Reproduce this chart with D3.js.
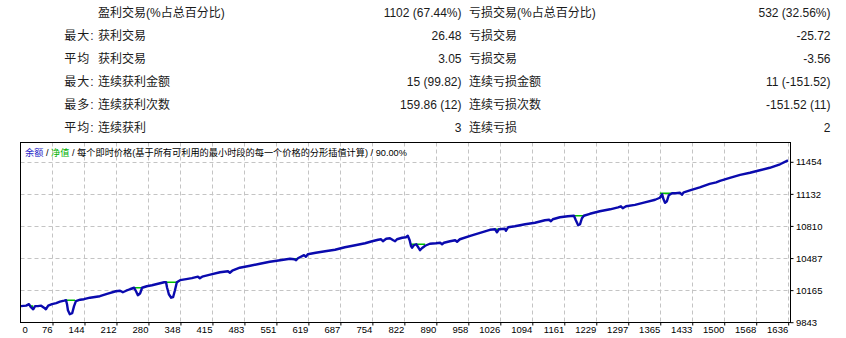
<!DOCTYPE html>
<html>
<head>
<meta charset="utf-8">
<script src="https://cdn.jsdelivr.net/npm/d3@7"></script>
<style>
  body { margin: 0; background: #fff; }
  svg { display: block; }
  .tbl text { font-family: "Liberation Sans", "Noto Sans CJK SC", sans-serif; font-size: 12px; fill: #1a1a1a; }
  .axis text { font-family: "Liberation Sans", sans-serif; font-size: 9.5px; fill: #000; }
  .axis line { stroke: #000; }
  .grid line { stroke: #c4c4c4; stroke-dasharray: 4,3; }
</style>
</head>
<body>
<div id="chart"></div>
<script>
// stats table
const rowPrefix = ["", "最大:", "平均\u00a0", "最大:", "最多:", "平均:"];
const winLabels = ["盈利交易(%占总百分比)", "获利交易", "获利交易", "连续获利金额", "连续获利次数", "连续获利"];
const winValues = ["1102 (67.44%)", "26.48", "3.05", "15 (99.82)", "159.86 (12)", "3"];
const lossLabels = ["亏损交易(%占总百分比)", "亏损交易", "亏损交易", "连续亏损金额", "连续亏损次数", "连续亏损"];
const lossValues = ["532 (32.56%)", "-25.72", "-3.56", "11 (-151.52)", "-151.52 (11)", "2"];

// chart header
const headerParts = ["余额", " / ", "净值", " / 每个即时价格(基于所有可利用的最小时段的每一个价格的分形插值计算) / 90.00%"];

// axes
const xLabels = ["0", "76", "144", "212", "280", "348", "415", "483", "551", "619", "687", "754", "822",
  "890", "958", "1026", "1094", "1161", "1229", "1297", "1365", "1433", "1500", "1568", "1636"];
const yTicks = [9843, 10165, 10487, 10810, 11132, 11454];
const totalTrades = 1634;

// balance curve: [trade no, balance]
const balanceCurve = [
  [0,10004],[11,10009],[17,10024],[21,9994],[26,9973],[30,10004],[36,10004],[43,10009],[49,9989],[53,9973],
  [58,10009],[66,10024],[75,10034],[83,10049],[92,10059],[96,10064],[98,10024],[100,9963],[104,9923],[109,9933],
  [113,10004],[117,10054],[126,10069],[134,10074],[147,10089],[168,10104],[185,10129],[202,10154],[211,10159],[217,10144],
  [224,10159],[232,10174],[241,10189],[245,10154],[249,10114],[254,10134],[258,10189],[268,10204],[279,10214],[292,10229],
  [305,10244],[309,10244],[311,10194],[315,10124],[320,10089],[324,10094],[328,10164],[332,10244],[339,10265],[352,10275],
  [364,10285],[377,10300],[381,10285],[386,10300],[403,10320],[424,10345],[441,10355],[445,10340],[450,10360],[466,10390],
  [488,10410],[509,10430],[530,10450],[552,10465],[573,10480],[582,10475],[586,10465],[590,10485],[603,10516],[607,10500],
  [611,10526],[628,10541],[648,10556],[669,10571],[690,10596],[712,10616],[733,10636],[748,10656],[761,10671],[767,10676],
  [771,10656],[778,10681],[786,10686],[793,10666],[797,10656],[801,10676],[812,10691],[820,10696],[824,10711],[828,10666],
  [831,10606],[833,10591],[837,10616],[842,10626],[846,10596],[850,10566],[854,10586],[861,10611],[871,10631],[884,10636],
  [893,10641],[897,10626],[901,10641],[914,10656],[925,10666],[929,10651],[935,10676],[957,10711],[978,10741],[999,10771],
  [1010,10776],[1014,10746],[1018,10776],[1031,10781],[1033,10761],[1038,10797],[1052,10807],[1074,10827],[1095,10842],[1116,10867],
  [1125,10872],[1129,10857],[1133,10877],[1148,10897],[1165,10907],[1178,10912],[1182,10867],[1187,10817],[1191,10827],[1195,10887],
  [1199,10912],[1212,10932],[1233,10957],[1255,10977],[1272,10997],[1278,11007],[1282,10987],[1289,11007],[1308,11022],[1329,11047],
  [1351,11073],[1361,11093],[1366,11128],[1368,11088],[1372,11042],[1376,11058],[1380,11118],[1387,11138],[1395,11138],[1404,11143],
  [1408,11123],[1412,11148],[1425,11168],[1446,11198],[1467,11233],[1481,11248],[1489,11263],[1510,11293],[1532,11323],[1553,11344],
  [1574,11369],[1595,11394],[1617,11429],[1634,11469]
];

// equity flats visible over the dips: [from trade, to trade, equity]
const equityFlats = [
  [19,26,10004],[94,115,10064],[241,258,10189],[309,335,10244],[580,588,10480],
  [829,861,10626],[1010,1020,10776],[1178,1201,10912],[1361,1389,11138]
];

const width = 846, height = 338;
const frame = {left: 20.5, top: 142.5, right: 790.5, bottom: 322.5};

const svg = d3.select("#chart").append("svg")
  .attr("width", width)
  .attr("height", height);

// ---- table
const tbl = svg.append("g").attr("class", "tbl");
const rowY = i => 13.3 + i * 22.9;
rowPrefix.forEach((p, i) => {
  const y = rowY(i);
  tbl.append("text").attr("x", 94.5).attr("y", y).attr("dominant-baseline", "central")
    .attr("text-anchor", "end").attr("letter-spacing", 1).text(p);
  tbl.append("text").attr("x", 98).attr("y", y).attr("dominant-baseline", "central").text(winLabels[i]);
  tbl.append("text").attr("x", 461.5).attr("y", y).attr("dominant-baseline", "central")
    .attr("text-anchor", "end").text(winValues[i]);
  tbl.append("text").attr("x", 469).attr("y", y).attr("dominant-baseline", "central").text(lossLabels[i]);
  tbl.append("text").attr("x", 830.5).attr("y", y).attr("dominant-baseline", "central")
    .attr("text-anchor", "end").text(lossValues[i]);
});

// ---- scales
const xGrid = d3.scalePoint().domain(xLabels).range([frame.left, frame.left + 767.7]);
const x = d3.scaleLinear().domain([0, totalTrades]).range([frame.left + 0.5, 788]);
const y = d3.scaleLinear().domain([9843, 11454]).range([322.2, 161.8]);

// ---- grid
const grid = svg.append("g").attr("class", "grid");
grid.selectAll(".v").data(xLabels.slice(1)).enter().append("line")
  .attr("x1", d => Math.round(xGrid(d)) + 0.5).attr("x2", d => Math.round(xGrid(d)) + 0.5)
  .attr("y1", frame.top).attr("y2", frame.bottom);
grid.selectAll(".h").data(yTicks.slice(1)).enter().append("line")
  .attr("x1", frame.left).attr("x2", frame.right)
  .attr("y1", d => Math.round(y(d)) + 0.5).attr("y2", d => Math.round(y(d)) + 0.5);

// ---- header
const headerColors = ["#1f1fc8", "#000", "#00b000", "#000"];
const header = svg.append("text")
  .attr("x", 25).attr("y", 153)
  .attr("dominant-baseline", "central")
  .style("font-family", "\"Liberation Sans\", \"Noto Sans CJK SC\", sans-serif")
  .style("font-size", "9.2px");
headerParts.forEach((t, i) => {
  header.append("tspan").attr("fill", headerColors[i]).style("white-space", "pre").text(t);
});

// ---- lines
svg.append("clipPath").attr("id", "clip").append("rect")
  .attr("x", frame.left).attr("y", frame.top)
  .attr("width", frame.right - frame.left).attr("height", frame.bottom - frame.top);

const plot = svg.append("g").attr("clip-path", "url(#clip)");

plot.selectAll(".eq").data(equityFlats).enter().append("line")
  .attr("x1", d => x(d[0])).attr("x2", d => x(d[1]))
  .attr("y1", d => y(d[2])).attr("y2", d => y(d[2]))
  .attr("stroke", "#00c000").attr("stroke-width", 1.6);

const line = d3.line()
  .x(d => x(d[0]))
  .y(d => y(d[1]));

plot.append("path")
  .datum(balanceCurve)
  .attr("fill", "none")
  .attr("stroke", "#0a0aae")
  .attr("stroke-width", 2.4)
  .attr("stroke-linejoin", "round")
  .attr("d", line);

// ---- frame
svg.append("rect")
  .attr("x", frame.left).attr("y", frame.top)
  .attr("width", frame.right - frame.left).attr("height", frame.bottom - frame.top)
  .attr("fill", "none").attr("stroke", "#000");

// ---- axes
const xAxis = svg.append("g").attr("class", "axis")
  .attr("transform", "translate(0," + frame.bottom + ")")
  .call(d3.axisBottom(xGrid).tickSize(3));
xAxis.select(".domain").remove();
xAxis.selectAll(".tick text")
  .attr("y", 7).attr("dy", "0.35em")
  .attr("text-anchor", (d, i) => i === 0 ? "start" : "end")
  .attr("dx", (d, i) => i === 0 ? 1.5 : -0.5);
xAxis.select(".tick line").remove();

const yAxis = svg.append("g").attr("class", "axis")
  .attr("transform", "translate(" + frame.right + ",0)")
  .call(d3.axisRight(y).tickValues(yTicks).tickSize(3).tickFormat(d3.format("d")));
yAxis.select(".domain").remove();
yAxis.selectAll(".tick text").attr("x", 5.5).attr("dy", "0.33em");
</script>
</body>
</html>
